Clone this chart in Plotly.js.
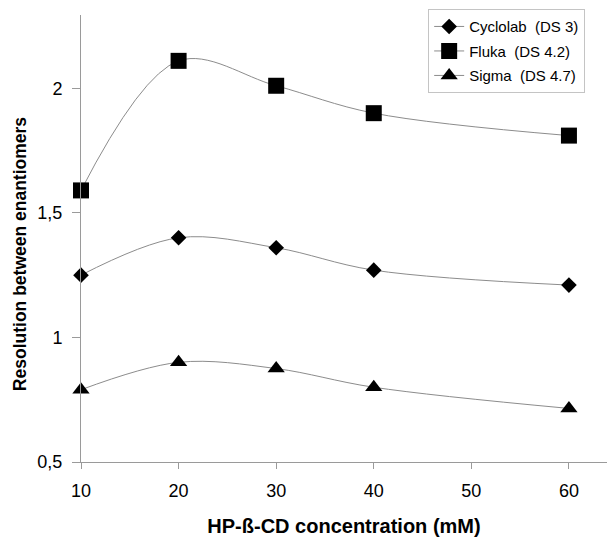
<!DOCTYPE html>
<html>
<head>
<meta charset="utf-8">
<script src="https://cdn.plot.ly/plotly-3.0.1.min.js"></script>
<style>html,body{margin:0;padding:0;background:#fff;}</style>
</head>
<body>
<div id="chart" style="width:607px;height:537px;"></div>
<script>
const concentration = [10, 20, 30, 40, 60];
const cyclolab = [1.25, 1.40, 1.36, 1.27, 1.21];
const fluka = [1.59, 2.11, 2.01, 1.90, 1.81];
const sigma = [0.79, 0.90, 0.875, 0.80, 0.715];
const seriesNames = ['Cyclolab  (DS 3)', 'Fluka  (DS 4.2)', 'Sigma  (DS 4.7)'];
const yTickVals = [0.5, 1, 1.5, 2];
const yTickText = ['0,5', '1', '1,5', '2'];
const xTickVals = [10, 20, 30, 40, 50, 60];
const xTitle = 'HP-ß-CD concentration (mM)';
const yTitle = 'Resolution between enantiomers';

const font = 'Liberation Sans, Arial, sans-serif';
const lineStyle = {color: '#8c8c8c', width: 1, shape: 'spline', smoothing: 1};

const traces = [
  {x: concentration, y: cyclolab, name: seriesNames[0], legendgroup: 'a', mode: 'lines+markers',
   cliponaxis: false, line: lineStyle, marker: {symbol: 'diamond', size: 12, color: '#000'}},
  {x: concentration, y: fluka, name: seriesNames[1], legendgroup: 'b', mode: 'lines+markers',
   cliponaxis: false, line: lineStyle, marker: {symbol: 'square', size: 16, color: '#000'}},
  {x: concentration, y: sigma, name: seriesNames[2], legendgroup: 'c', mode: 'lines+markers',
   cliponaxis: false, line: lineStyle, marker: {symbol: 'triangle-up', size: 15, color: '#000'}}
];

const layout = {
  width: 607, height: 537,
  margin: {l: 81, r: 0, t: 15, b: 75},
  paper_bgcolor: '#fff', plot_bgcolor: '#fff',
  font: {family: font, size: 18, color: '#000'},
  showlegend: true,
  legend: {x: 0.66, y: 1.013, xanchor: 'left', yanchor: 'top',
           bordercolor: '#c4c4c4', borderwidth: 1, bgcolor: '#fff',
           font: {family: font, size: 15, color: '#000'}, tracegroupgap: 2},
  xaxis: {range: [10, 63.9], tickvals: xTickVals, ticks: 'outside', ticklen: 6,
          tickcolor: '#9a9a9a', showline: true, linecolor: '#9a9a9a', linewidth: 1,
          showgrid: false, zeroline: false, ticklabelstandoff: 6,
          tickfont: {family: font, size: 18},
          title: {text: '<b>' + xTitle + '</b>', font: {family: font, size: 20}, standoff: 22}},
  yaxis: {range: [0.5, 2.294], tickvals: yTickVals, ticktext: yTickText, ticks: 'outside', ticklen: 8,
          tickcolor: '#9a9a9a', showline: true, linecolor: '#9a9a9a', linewidth: 1,
          showgrid: false, zeroline: false, ticklabelstandoff: 6,
          tickfont: {family: font, size: 18}},
  annotations: [{text: '<b>' + yTitle + '</b>', textangle: -90, showarrow: false,
                 xref: 'paper', yref: 'paper', x: -0.116, y: 0.465,
                 xanchor: 'center', yanchor: 'middle',
                 font: {family: font, size: 17.5, color: '#000'}}]
};

Plotly.newPlot('chart', traces, layout, {displayModeBar: false, staticPlot: true});
</script>
</body>
</html>
